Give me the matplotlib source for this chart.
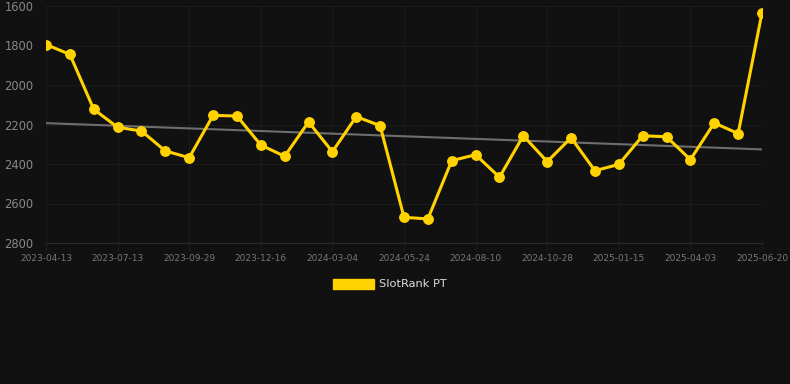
import numpy as np
import matplotlib
matplotlib.use("Agg")
import matplotlib.pyplot as plt
from matplotlib.patches import Patch

# rank values per snapshot (lower is better, axis inverted)
rank = [1795, 1845, 2123, 2214, 2233, 2334, 2368, 2154, 2157, 2304,
        2361, 2187, 2338, 2160, 2206, 2670, 2678, 2383, 2353, 2467,
        2257, 2388, 2267, 2434, 2402, 2257, 2262, 2378, 2192, 2246,
        1634]
tick_labels = ["2023-04-13", "2023-07-13", "2023-09-29", "2023-12-16",
               "2024-03-04", "2024-05-24", "2024-08-10", "2024-10-28",
               "2025-01-15", "2025-04-03", "2025-06-20"]
y_ticks = [1600, 1800, 2000, 2200, 2400, 2600, 2800]

bg = "#111111"
gold = "#FFD200"

x = np.arange(len(rank))

fig = plt.figure(figsize=(7.9, 3.84), dpi=100, facecolor=bg)
ax = fig.add_axes([46/790, 1-243/384, 716/790, 237/384])
ax.set_facecolor(bg)

# trend line
k, b = np.polyfit(x, rank, 1)
ax.plot(x, k*x + b, color="#6e6e6e", lw=1.5, zorder=2)

ax.plot(x, rank, color=gold, lw=2.2, marker="o", ms=6.8, zorder=3)

ax.set_xlim(0, len(rank)-1)
ax.set_ylim(2800, 1600)
ax.set_yticks(y_ticks)
ax.set_xticks(x[::3])
ax.set_xticklabels(tick_labels)
ax.tick_params(axis="y", colors="#888888", labelsize=8.3, length=0, pad=9)
ax.tick_params(axis="x", colors="#1c1c1c", labelcolor="#777777",
               labelsize=6.5, length=6, pad=2)
ax.grid(True, color="#1b1b1b", lw=0.8)
for s in ["top", "right", "left"]:
    ax.spines[s].set_visible(False)
ax.spines["bottom"].set_color("#2a2a2a")
ax.set_clip_on(False)

leg = fig.legend(handles=[Patch(color=gold, label="SlotRank PT")],
                 loc="center", bbox_to_anchor=(390/790, 1-284/384),
                 frameon=False, fontsize=8.2, handlelength=3.6,
                 handleheight=1.0, handletextpad=0.5)
for t in leg.get_texts():
    t.set_color("#dddddd")

fig.savefig("out.png", dpi=100, facecolor=bg)
